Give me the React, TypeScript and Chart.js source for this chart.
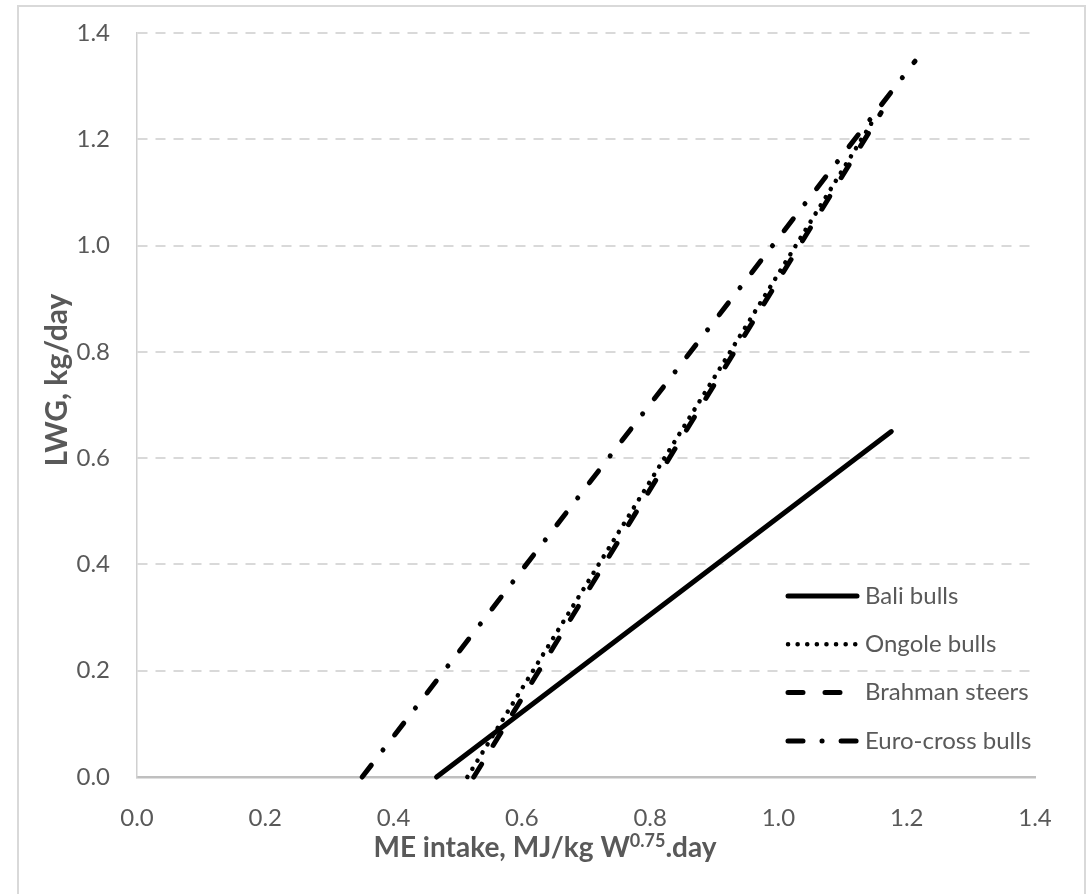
import React, { useEffect, useRef } from 'react';
import { Chart, registerables } from 'chart.js';

Chart.register(...registerables);

// ---- data ----
const seriesNames = ['Bali bulls', 'Ongole bulls', 'Brahman steers', 'Euro-cross bulls'];
const baliX = [0.467, 1.176];
const baliY = [0.0, 0.65];
const ongoleX = [0.515, 1.15];
const ongoleY = [0.0, 1.24];
const brahmanX = [0.525, 1.16];
const brahmanY = [0.0, 1.25];
const euroX = [0.351, 1.213];
const euroY = [0.0, 1.347];
const xTickValues = [0.0, 0.2, 0.4, 0.6, 0.8, 1.0, 1.2, 1.4];
const yTickValues = [0.0, 0.2, 0.4, 0.6, 0.8, 1.0, 1.2, 1.4];
const xTitleMain = 'ME intake, MJ/kg W';
const xTitleSup = '0.75';
const xTitleEnd = '.day';
const yTitle = 'LWG, kg/day';

// ---- styles ----
const dashStyles: number[][] = [[], [0.1, 9.5], [15, 22], [15, 19, 0.1, 19]];
const lineWidths = [5, 4.5, 5, 5];
const GREY = '#595959';
const FONT = 'Lato, "Open Sans", sans-serif';

const toPoints = (xs: number[], ys: number[]) => xs.map((x, i) => ({ x, y: ys[i] }));

const overlayPlugin = {
  id: 'overlay',
  afterDraw(chart: any) {
    const ctx = chart.ctx as CanvasRenderingContext2D;
    ctx.save();
    // y-axis title
    ctx.fillStyle = GREY;
    ctx.font = `bold 30px ${FONT}`;
    ctx.textAlign = 'center';
    ctx.textBaseline = 'middle';
    ctx.translate(57, 380);
    ctx.rotate(-Math.PI / 2);
    ctx.fillText(yTitle, 0, 0);
    ctx.setTransform(1, 0, 0, 1, 0, 0);

    // x-axis title with superscript
    const mainFont = `bold 28px ${FONT}`;
    const supFont = `bold 18px ${FONT}`;
    ctx.font = mainFont;
    const w1 = ctx.measureText(xTitleMain).width;
    const w3 = ctx.measureText(xTitleEnd).width;
    ctx.font = supFont;
    const w2 = ctx.measureText(xTitleSup).width;
    const total = w1 + w2 + w3;
    const cx = 545;
    const baseY = 857;
    let x = cx - total / 2;
    ctx.textAlign = 'left';
    ctx.textBaseline = 'alphabetic';
    ctx.font = mainFont;
    ctx.fillText(xTitleMain, x, baseY);
    x += w1;
    ctx.font = supFont;
    ctx.fillText(xTitleSup, x, baseY - 10);
    x += w2;
    ctx.font = mainFont;
    ctx.fillText(xTitleEnd, x, baseY);

    // legend
    const metas = chart.data.datasets;
    metas.forEach((ds: any, i: number) => {
      const y = 596 + i * 48.3;
      ctx.save();
      ctx.strokeStyle = '#000';
      ctx.lineWidth = ds.borderWidth;
      ctx.lineCap = 'round';
      ctx.setLineDash(ds.borderDash || []);
      ctx.beginPath();
      ctx.moveTo(788, y);
      ctx.lineTo(857, y);
      ctx.stroke();
      ctx.restore();
      ctx.fillStyle = GREY;
      ctx.font = `24px ${FONT}`;
      ctx.textAlign = 'left';
      ctx.textBaseline = 'middle';
      ctx.fillText(ds.label, 865, y);
    });
    ctx.restore();
  },
};

export default function App() {
  const canvasRef = useRef<HTMLCanvasElement | null>(null);

  useEffect(() => {
    if (!canvasRef.current) return;
    const seriesX = [baliX, ongoleX, brahmanX, euroX];
    const seriesY = [baliY, ongoleY, brahmanY, euroY];
    const chart = new Chart(canvasRef.current, {
      type: 'scatter',
      data: {
        datasets: seriesNames.map((name, i) => ({
          label: name,
          data: toPoints(seriesX[i], seriesY[i]),
          showLine: true,
          borderColor: '#000',
          backgroundColor: '#000',
          borderWidth: lineWidths[i],
          borderDash: dashStyles[i],
          borderCapStyle: 'round',
          pointRadius: 0,
          pointHoverRadius: 0,
          clip: false,
        })),
      },
      options: {
        animation: false,
        responsive: false,
        devicePixelRatio: 1,
        layout: { padding: { left: 0, right: 54, top: 33, bottom: 0 } },
        plugins: {
          legend: { display: false },
          tooltip: { enabled: false },
          title: { display: false },
        },
        scales: {
          x: {
            type: 'linear',
            min: 0,
            max: 1.4,
            afterFit: (s: any) => { s.height = 117; },
            afterBuildTicks: (s: any) => { s.ticks = xTickValues.map((v) => ({ value: v })); },
            grid: { display: false, drawTicks: false },
            border: { display: true, color: '#bfbfbf', width: 2.5 },
            ticks: {
              padding: 27,
              color: GREY,
              font: { family: FONT, size: 24 },
              callback: (v: any) => Number(v).toFixed(1),
            },
          },
          y: {
            type: 'linear',
            min: 0,
            max: 1.4,
            afterFit: (s: any) => { s.width = 137; },
            afterBuildTicks: (s: any) => { s.ticks = yTickValues.map((v) => ({ value: v })); },
            grid: {
              drawTicks: true,
              tickLength: 22,
              tickColor: 'rgba(0,0,0,0)',
              color: (c: any) => (c.tick && c.tick.value === 0 ? 'rgba(0,0,0,0)' : '#d9d9d9'),
              lineWidth: 2,
            },
            border: { display: true, color: '#d0d0d0', width: 1.5, dash: [10, 8] },
            ticks: {
              padding: 5,
              color: GREY,
              font: { family: FONT, size: 24 },
              callback: (v: any) => Number(v).toFixed(1),
            },
          },
        },
      },
      plugins: [overlayPlugin],
    } as any);
    return () => chart.destroy();
  }, []);

  return (
    <div style={{ position: 'absolute', left: 0, top: 0, width: 1089, height: 894, background: '#fff', overflow: 'hidden' }}>
      <div style={{ position: 'absolute', left: 17, top: 5, width: 1065, height: 900, border: '2px solid #d9d9d9' }} />
      <canvas ref={canvasRef} width={1089} height={894} style={{ position: 'absolute', left: 0, top: 0, width: 1089, height: 894 }} />
    </div>
  );
}
